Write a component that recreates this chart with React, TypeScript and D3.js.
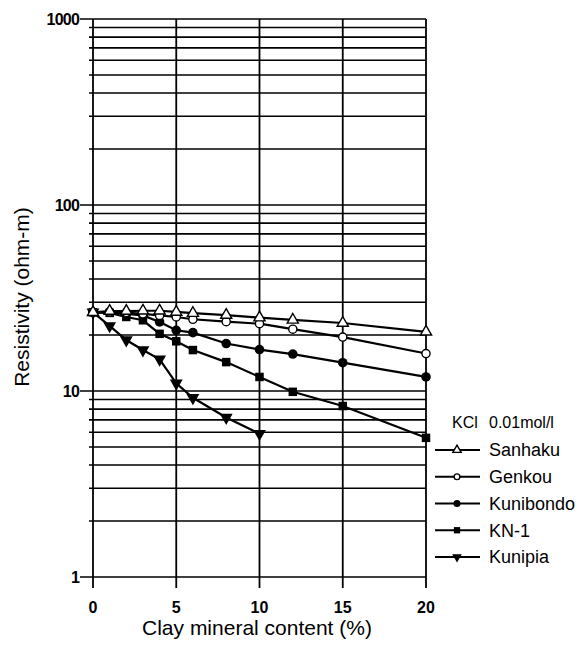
import React from 'react';
import * as d3 from 'd3';

// clay content (%) and resistivity (ohm-m)
const clay = [0, 1, 2, 3, 4, 5, 6, 8, 10, 12, 15, 20];
const clayKunipia = [0, 1, 2, 3, 4, 5, 6, 8, 10];

const sanhaku = [26.5, 26.9, 26.9, 27, 27, 26.6, 26.2, 25.6, 24.8, 24.1, 23.2, 20.8];
const genkou = [26.5, 26.6, 26.4, 26, 25.5, 25, 24.3, 23.6, 23, 21.5, 19.5, 15.9];
const kunibondo = [26.5, 26.5, 26, 25.5, 23.5, 21.2, 20.6, 18, 16.7, 15.8, 14.2, 11.9];
const kn1 = [26.5, 26.3, 25, 24, 20.3, 18.5, 16.6, 14.3, 11.9, 9.9, 8.3, 5.6];
const kunipia = [26.5, 22.4, 18.8, 16.6, 14.8, 11, 9.2, 7.2, 5.9];

const xTicks = [0, 5, 10, 15, 20];
const yMajor = [1, 10, 100, 1000];

const legendTitle = 'KCl';
const legendSub = '0.01mol/l';

type Series = { name: string; xs: number[]; ys: number[]; marker: string };

const series: Series[] = [
  { name: 'Kunipia', xs: clayKunipia, ys: kunipia, marker: 'down' },
  { name: 'KN-1', xs: clay, ys: kn1, marker: 'square' },
  { name: 'Kunibondo', xs: clay, ys: kunibondo, marker: 'dot' },
  { name: 'Genkou', xs: clay, ys: genkou, marker: 'circle' },
  { name: 'Sanhaku', xs: clay, ys: sanhaku, marker: 'triangle' },
];
const legendOrder = ['Sanhaku', 'Genkou', 'Kunibondo', 'KN-1', 'Kunipia'];

const font = '"Liberation Sans", Arial, Helvetica, sans-serif';

function Marker({ kind, x, y, s }: { kind: string; x: number; y: number; s: number }) {
  if (kind === 'triangle') {
    const p = d3.symbol(d3.symbolTriangle, s * 0.75)();
    return <path d={p || ''} transform={`translate(${x},${y})`} fill="white" stroke="black" strokeWidth={1.4} />;
  }
  if (kind === 'down') {
    const p = d3.symbol(d3.symbolTriangle, s * 1.0)();
    return <path d={p || ''} transform={`translate(${x},${y}) rotate(180)`} fill="black" />;
  }
  if (kind === 'square') {
    const p = d3.symbol(d3.symbolSquare, s)();
    return <path d={p || ''} transform={`translate(${x},${y})`} fill="black" />;
  }
  const r = Math.sqrt(s / Math.PI);
  return (
    <circle cx={x} cy={y} r={kind === 'circle' ? r - 0.7 : r}
      fill={kind === 'circle' ? 'white' : 'black'}
      stroke="black" strokeWidth={kind === 'circle' ? 1.4 : 0} />
  );
}

export default function App() {
  const x = d3.scaleLinear().domain([0, 20]).range([93, 426]);
  const y = d3.scaleLog().domain([1, 1000]).range([577, 19]);

  // every 1..9 step of each decade
  const gridY: number[] = [];
  for (let d = 1; d < 1000; d *= 10) {
    for (let k = 1; k < 10; k++) gridY.push(d * k);
  }
  gridY.push(1000);

  const line = d3.line<[number, number]>()
    .x(d => x(d[0]))
    .y(d => y(d[1]));

  const legendY = d3.scaleLinear().domain([0, 4]).range([450, 557]);

  return (
    <div style={{ position: 'absolute', left: 0, top: 0 }}>
      <svg width={581} height={649} style={{ display: 'block', background: 'white' }}>
        {/* horizontal log grid */}
        {gridY.map(v => (
          <line key={'h' + v}
            x1={yMajor.includes(v) ? 80 : 89} x2={x(20)}
            y1={y(v)} y2={y(v)}
            stroke="black" strokeWidth={1.7} />
        ))}
        {/* vertical grid */}
        {xTicks.map(t => (
          <line key={'v' + t} x1={x(t)} x2={x(t)} y1={y(1000)} y2={588}
            stroke="black" strokeWidth={1.8} />
        ))}

        {/* y tick labels */}
        {yMajor.map(v => (
          <text key={'yl' + v} x={79} y={y(v)} dy="0.35em" textAnchor="end"
            fontFamily={font} fontSize={16} fontWeight="bold" letterSpacing={-0.8}>{v}</text>
        ))}
        {/* x tick labels */}
        {xTicks.map(t => (
          <text key={'xl' + t} x={x(t)} y={607} dy="0.35em" textAnchor="middle"
            fontFamily={font} fontSize={16} fontWeight="bold">{t}</text>
        ))}

        {/* axis titles */}
        <text x={257} y={628} dy="0.35em" textAnchor="middle" fontFamily={font} fontSize={21}>
          Clay mineral content (%)
        </text>
        <text transform="translate(22,297) rotate(-90)" dy="0.35em" textAnchor="middle"
          fontFamily={font} fontSize={21}>
          Resistivity (ohm-m)
        </text>

        {/* series */}
        {series.map(s => {
          const pts: [number, number][] = s.xs.map((v, i) => [v, s.ys[i]]);
          return (
            <g key={s.name}>
              <path d={line(pts) || ''} fill="none" stroke="black" strokeWidth={2.2} />
              {pts.map((p, i) => (
                <Marker key={i} kind={s.marker} x={x(p[0])} y={y(p[1])} s={72} />
              ))}
            </g>
          );
        })}

        {/* legend */}
        <text x={452} y={422} dy="0.35em" fontFamily={font} fontSize={16}>{legendTitle}</text>
        <text x={489} y={422} dy="0.35em" fontFamily={font} fontSize={16}>{legendSub}</text>
        {legendOrder.map((name, i) => {
          const s = series.find(d => d.name === name)!;
          const ly = legendY(i);
          return (
            <g key={'lg' + name}>
              <line x1={435} x2={480} y1={ly} y2={ly} stroke="black" strokeWidth={2.2} />
              <Marker kind={s.marker} x={457} y={ly} s={40} />
              <text x={489} y={ly} dy="0.35em" fontFamily={font} fontSize={18}>{name}</text>
            </g>
          );
        })}
      </svg>
    </div>
  );
}
